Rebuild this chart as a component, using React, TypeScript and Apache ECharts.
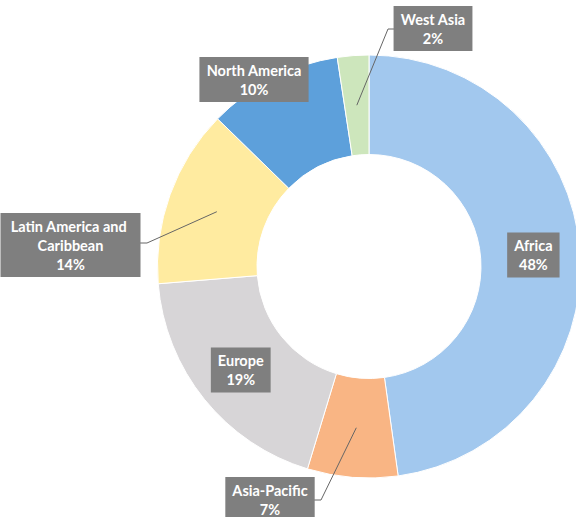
import React, { useEffect, useRef } from "react";
import * as echarts from "echarts";

// ---- data ----
const categories = [
  "Africa",
  "Asia-Pacific",
  "Europe",
  "Latin America and Caribbean",
  "North America",
  "West Asia",
];
const shares = [47.8, 6.9, 19.0, 13.6, 10.3, 2.4];
const colors = ["#A2C8EE", "#F9B584", "#D7D5D7", "#FFEBA0", "#5DA0DB", "#CDE6BC"];

// ---- layout (not data) ----
const CENTER: [number, number] = [369, 266.5];
const R_IN = 112;
const R_OUT = 211.5;
type Place = { x: number; y: number; elbow?: [number, number]; end?: [number, number] } | null;
const LABEL_PLACE: Place[] = [
  null, // Africa: inside
  { x: 270, y: 499.5, elbow: [321, 500], end: [313, 500] }, // Asia-Pacific
  null, // Europe: inside
  { x: 70.5, y: 245, elbow: [147, 243], end: [137, 243] }, // Latin America
  { x: 254, y: 79.5 }, // North America
  { x: 433, y: 28.5, elbow: [388, 29], end: [395, 29] }, // West Asia
];

export default function App() {
  const ref = useRef<HTMLDivElement>(null);
  useEffect(() => {
    document.body.style.margin = "0";
    if (!ref.current) return;
    const chart = echarts.init(ref.current, undefined, { renderer: "svg" });
    const total = shares.reduce((a, b) => a + b, 0);
    const midFrac: number[] = [];
    let acc = 0;
    shares.forEach((v) => {
      midFrac.push((acc + v / 2) / total);
      acc += v;
    });
    const inside = new Set([0, 2]);

    const baseData = categories.map((name, i) => ({
      name,
      value: shares[i],
      itemStyle: { color: colors[i] },
    }));

    const labelData = categories.map((name, i) => ({
      name,
      value: shares[i],
      label: inside.has(i)
        ? { position: "inside" }
        : i === 3
        ? { position: "outside", width: 126, overflow: "break" }
        : { position: "outside" },
      labelLine: { show: i !== 4 && !inside.has(i) },
    }));

    chart.setOption({
      animation: false,
      series: [
        {
          type: "pie",
          z: 2,
          center: CENTER,
          radius: [R_IN, R_OUT],
          startAngle: 90,
          clockwise: true,
          silent: true,
          itemStyle: { borderColor: "#ffffff", borderWidth: 1 },
          emphasis: { disabled: true },
          label: { show: false },
          labelLine: { show: false },
          data: baseData,
        },
        {
          type: "pie",
          z: 5,
          center: CENTER,
          radius: [R_IN, R_OUT],
          startAngle: 90,
          clockwise: true,
          avoidLabelOverlap: false,
          silent: true,
          itemStyle: { color: "rgba(0,0,0,0)", borderWidth: 0 },
          emphasis: { disabled: true },
          label: {
            show: true,
            formatter: (p: any) => `${p.name}\n${Math.round(p.percent)}%`,
            color: "#ffffff",
            fontFamily: "Lato, 'Open Sans', sans-serif",
            fontWeight: "bold",
            fontSize: 14.5,
            lineHeight: 19,
            align: "center",
            backgroundColor: "#7F7F7F",
            padding: [4, 7, 3, 7],
          },
          labelLine: {
            show: true,
            lineStyle: { color: "#666666", width: 1 },
          },
          labelLayout: (params: any) => {
            const i = params.dataIndex;
            const p = LABEL_PLACE[i];
            if (!p) return {};
            const out: any = {
              x: p.x,
              y: p.y,
              align: "center",
              verticalAlign: "middle",
              hideOverlap: false,
            };
            if (p.elbow && p.end) {
              const th = midFrac[i] * Math.PI * 2;
              const rm = (R_IN + R_OUT) / 2;
              const sx = CENTER[0] + rm * Math.sin(th);
              const sy = CENTER[1] - rm * Math.cos(th);
              out.labelLinePoints = [[sx, sy], p.elbow, p.end];
            }
            return out;
          },
          data: labelData,
        },
      ],
    });
    return () => chart.dispose();
  }, []);
  return <div ref={ref} style={{ width: 576, height: 517 }} />;
}
